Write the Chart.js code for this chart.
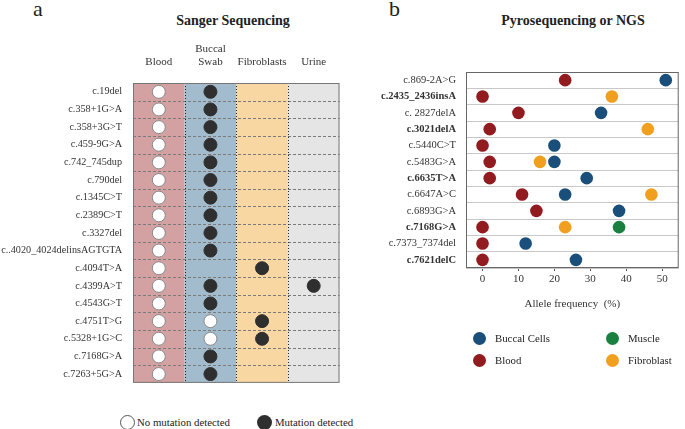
<!DOCTYPE html>
<html>
<head>
<meta charset="utf-8">
<script src="https://cdn.jsdelivr.net/npm/chart.js@4/dist/chart.umd.min.js"></script>
<style>
body { margin: 0; width: 685px; height: 429px; position: relative; overflow: hidden; background: #fff; font-family: "Liberation Serif", serif; color: #222; }
.t { position: absolute; white-space: nowrap; }
.ttl { position: absolute; width: 240px; text-align: center; font-weight: bold; font-size: 14px; line-height: 14px; }
.dot { position: absolute; border-radius: 50%; box-sizing: border-box; }
.lg { position: absolute; white-space: nowrap; font-size: 10.8px; line-height: 14px; }
#sanger, #pyro { position: absolute; top: 0; }
#sanger { left: 0; }
#pyro { left: 345px; }
</style>
</head>
<body>
<div class="t" style="left:33px;top:-2px;font-size:22px;line-height:22px">a</div>
<div class="t" style="left:389px;top:-2px;font-size:22px;line-height:22px">b</div>
<div class="ttl" style="left:113px;top:14px">Sanger Sequencing</div>
<div class="ttl" style="left:453px;top:14px">Pyrosequencing or NGS</div>

<canvas id="sanger" width="347" height="400"></canvas>
<canvas id="pyro" width="340" height="320"></canvas>

<div class="dot" style="left:120px;top:415px;width:15px;height:15px;background:#fff;border:1px solid #555"></div>
<div class="lg" style="left:137px;top:415px">No mutation detected</div>
<div class="dot" style="left:257px;top:415px;width:15px;height:15px;background:#2f2f2f"></div>
<div class="lg" style="left:275px;top:415px">Mutation detected</div>

<div class="dot" style="left:473px;top:332px;width:13px;height:13px;background:#1b4f7b"></div>
<div class="lg" style="left:495px;top:331px">Buccal Cells</div>
<div class="dot" style="left:473px;top:354px;width:13px;height:13px;background:#921b1f"></div>
<div class="lg" style="left:495px;top:353px">Blood</div>
<div class="dot" style="left:606px;top:332px;width:13px;height:13px;background:#198040"></div>
<div class="lg" style="left:628px;top:331px">Muscle</div>
<div class="dot" style="left:606px;top:354px;width:13px;height:13px;background:#f0a01e"></div>
<div class="lg" style="left:628px;top:353px">Fibroblast</div>

<script>
// ---- panel a : Sanger sequencing ----
var variants = ["c.19del", "c.358+1G>A", "c.358+3G>T", "c.459-9G>A", "c.742_745dup", "c.790del",
  "c.1345C>T", "c.2389C>T", "c.3327del", "c..4020_4024delinsAGTGTA", "c.4094T>A", "c.4399A>T",
  "c.4543G>T", "c.4751T>G", "c.5328+1G>C", "c.7168G>A", "c.7263+5G>A"];
var tissues = ["Blood", "Buccal Swab", "Fibroblasts", "Urine"];
// 1 = mutation detected, 0 = no mutation detected, null = not tested
var blood  = [0, 0, 0, 0, 0, 0, 0, 0, 0, 0, 0, 0, 0, 0, 0, 0, 0];
var buccal = [1, 1, 1, 1, 1, 1, 1, 1, 1, 1, null, 1, 1, 0, 0, 1, 1];
var fibro  = [null, null, null, null, null, null, null, null, null, null, 1, null, null, 1, 1, null, null];
var urine  = [null, null, null, null, null, null, null, null, null, null, null, 1, null, null, null, null, null];

// ---- panel b : pyrosequencing / NGS, allele frequency (%) ----
var mutations = ["c.869-2A>G", "c.2435_2436insA", "c. 2827delA", "c.3021delA", "c.5440C>T", "c.5483G>A",
  "c.6635T>A", "c.6647A>C", "c.6893G>A", "c.7168G>A", "c.7373_7374del", "c.7621delC"];
var boldMutations = ["c.2435_2436insA", "c.3021delA", "c.6635T>A", "c.7168G>A", "c.7621delC"];
var buccalAF = [51, null, 33, null, 20, 20, 29, 23, 38, null, 12, 26];
var bloodAF  = [23, 0, 10, 2, 0, 2, 2, 11, 15, 0, 0, 0];
var muscleAF = [null, null, null, null, null, null, null, null, null, 38, null, null];
var fibroAF  = [null, 36, null, 46, null, 16, null, 47, null, 23, null, null];
var freqTicks = [0, 10, 20, 30, 40, 50];

var bandColors = ["#d4a1a3", "#a3bccd", "#f9d7a2", "#e5e5e5"];

var cols = [blood, buccal, fibro, urine];
var noneFound = [], found = [];
cols.forEach(function(col, i) {
  col.forEach(function(v, j) {
    if (v === 0) noneFound.push({x: tissues[i], y: variants[j]});
    else if (v === 1) found.push({x: tissues[i], y: variants[j]});
  });
});

var sangerBands = {
  id: 'sangerBands',
  beforeDatasetsDraw: function(chart) {
    var c = chart.ctx, a = chart.chartArea, x = chart.scales.x, y = chart.scales.y;
    var w = (a.right - a.left) / tissues.length;
    var h = (a.bottom - a.top) / variants.length;
    c.save();
    tissues.forEach(function(t, i) {
      var px = x.getPixelForValue(i);
      c.fillStyle = bandColors[i];
      c.fillRect(px - w / 2, a.top, w, a.bottom - a.top);
    });
    c.lineWidth = 1;
    c.strokeStyle = '#7a7a7a';
    c.setLineDash([3, 2]);
    for (var j = 1; j < variants.length; j++) {
      var py = Math.round(y.getPixelForValue(j) - h / 2) + 0.5;
      c.beginPath(); c.moveTo(a.left, py); c.lineTo(a.right, py); c.stroke();
    }
    c.strokeStyle = '#222';
    c.setLineDash([1, 2]);
    for (var i = 1; i < tissues.length; i++) {
      var px = Math.round(x.getPixelForValue(i) - w / 2) + 0.5;
      c.beginPath(); c.moveTo(px, a.top); c.lineTo(px, a.bottom); c.stroke();
    }
    c.setLineDash([]);
    c.strokeStyle = '#777';
    c.strokeRect(a.left + 0.5, a.top + 0.5, a.right - a.left - 1, a.bottom - a.top - 1);
    c.restore();
  }
};

new Chart(document.getElementById('sanger'), {
  type: 'scatter',
  data: {
    datasets: [
      { label: 'No mutation detected', data: noneFound, backgroundColor: '#fff', borderColor: '#888', borderWidth: 1, pointRadius: 6.5 },
      { label: 'Mutation detected', data: found, backgroundColor: '#2f2f2f', borderColor: '#2f2f2f', borderWidth: 1, pointRadius: 6.5 }
    ]
  },
  options: {
    responsive: false,
    animation: false,
    layout: { padding: { left: 0, top: 0, right: 3, bottom: 10 } },
    plugins: { legend: { display: false }, tooltip: { enabled: false } },
    scales: {
      x: {
        type: 'category', labels: tissues, position: 'top', offset: true,
        grid: { display: false, drawTicks: false }, border: { display: false },
        ticks: {
          padding: 14, maxRotation: 0, minRotation: 0, autoSkip: false,
          color: '#333', font: { family: 'Liberation Serif', size: 11 },
          callback: function(v) { var l = this.getLabelForValue(v); return l.indexOf(' ') > 0 ? l.split(' ') : l; }
        },
        afterFit: function(s) { s.height = 83; }
      },
      y: {
        type: 'category', labels: variants, offset: true,
        grid: { display: false, drawTicks: false }, border: { display: false },
        ticks: { padding: 11, autoSkip: false, color: '#333', font: { family: 'Liberation Serif', size: 10.2 } },
        afterFit: function(s) { s.width = 133; }
      }
    }
  },
  plugins: [sangerBands]
});

function afPoints(arr) {
  var pts = [];
  arr.forEach(function(v, j) { if (v !== null) pts.push({x: v, y: mutations[j]}); });
  return pts;
}

var plotBox = {
  id: 'plotBox',
  afterDatasetsDraw: function(chart) {
    var c = chart.ctx, a = chart.chartArea;
    c.save();
    c.strokeStyle = '#666';
    c.lineWidth = 1;
    c.strokeRect(a.left + 0.5, a.top + 0.5, a.right - a.left - 1, a.bottom - a.top - 1);
    c.restore();
  }
};

new Chart(document.getElementById('pyro'), {
  type: 'scatter',
  data: {
    datasets: [
      { label: 'Buccal Cells', data: afPoints(buccalAF), backgroundColor: '#1b4f7b', borderColor: '#1b4f7b' },
      { label: 'Blood', data: afPoints(bloodAF), backgroundColor: '#921b1f', borderColor: '#921b1f' },
      { label: 'Muscle', data: afPoints(muscleAF), backgroundColor: '#198040', borderColor: '#198040' },
      { label: 'Fibroblast', data: afPoints(fibroAF), backgroundColor: '#f0a01e', borderColor: '#f0a01e' }
    ]
  },
  options: {
    responsive: false,
    animation: false,
    elements: { point: { radius: 6.3, borderWidth: 0 } },
    layout: { padding: { left: 0, top: 72, right: 3, bottom: 0 } },
    plugins: { legend: { display: false }, tooltip: { enabled: false } },
    scales: {
      x: {
        type: 'linear', min: -4.6, max: 54.6,
        grid: { drawOnChartArea: false, drawTicks: true, tickLength: 3, color: '#555' },
        border: { display: false },
        afterBuildTicks: function(s) { s.ticks = freqTicks.map(function(v) { return {value: v}; }); },
        ticks: { padding: 2, color: '#333', font: { family: 'Liberation Serif', size: 11 } },
        title: { display: true, text: 'Allele frequency  (%)', color: '#333', padding: { top: 4, bottom: 9 }, font: { family: 'Liberation Serif', size: 11 } },
        afterFit: function(s) { s.height = 52; }
      },
      y: {
        type: 'category', labels: mutations, offset: true,
        grid: { offset: true, drawTicks: false, color: '#c8c8c8' },
        border: { display: false },
        ticks: {
          padding: 10, autoSkip: false, color: '#333',
          font: function(ctx) {
            var lab = mutations[ctx.index];
            return { family: 'Liberation Serif', size: 10.5, weight: boldMutations.indexOf(lab) >= 0 ? 'bold' : 'normal' };
          }
        },
        afterFit: function(s) { s.width = 121; }
      }
    }
  },
  plugins: [plotBox]
});
</script>
</body>
</html>
